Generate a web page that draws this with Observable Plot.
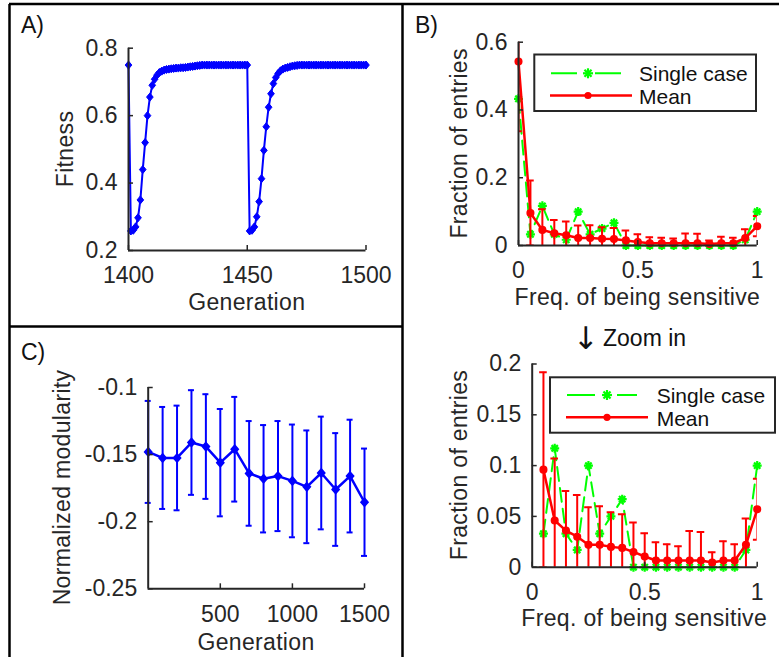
<!DOCTYPE html>
<html><head><meta charset="utf-8">
<script src="https://cdn.jsdelivr.net/npm/d3@7"></script>
<script src="https://cdn.jsdelivr.net/npm/@observablehq/plot@0.6"></script>
<style>
html,body{margin:0;padding:0;background:#fff;}
#fig{position:relative;width:779px;height:657px;overflow:hidden;background:#fff;}
#fig svg{position:absolute;left:0;top:0;overflow:visible;}
</style></head><body><div id="fig"></div>
<script>
// ---------- DATA ----------
// Panel A: fitness per generation, starting at generation 1400
const fitnessStartGen = 1400;
const fitness = [
 0.750,0.258,0.260,0.270,0.297,0.350,0.440,0.520,0.600,0.655,
 0.690,0.708,0.720,0.728,0.732,0.735,0.737,0.738,0.739,0.740,
 0.741,0.741,0.742,0.742,0.743,0.744,0.745,0.746,0.747,0.748,
 0.749,0.750,0.750,0.750,0.750,0.750,0.750,0.750,0.750,0.750,
 0.750,0.750,0.750,0.750,0.750,0.750,0.750,0.750,0.750,0.750,
 0.750,0.258,0.260,0.270,0.300,0.345,0.413,0.497,0.567,0.625,
 0.665,0.695,0.713,0.725,0.733,0.738,0.741,0.743,0.745,0.747,
 0.748,0.749,0.750,0.750,0.750,0.750,0.750,0.750,0.750,0.750,
 0.750,0.750,0.750,0.750,0.750,0.750,0.750,0.750,0.750,0.750,
 0.750,0.750,0.750,0.750,0.750,0.750,0.750,0.750,0.750,0.750,
 0.750
];
const fitXTicks = [1400, 1450, 1500];
const fitYTicks = [0.2, 0.4, 0.6, 0.8];

// Panel B: fraction of entries vs frequency of being sensitive
const freqBins   = [0,0.05,0.1,0.15,0.2,0.25,0.3,0.35,0.4,0.45,0.5,0.55,0.6,0.65,0.7,0.75,0.8,0.85,0.9,0.95,1];
const singleCase = [0.433,0.033,0.117,0.033,0.017,0.100,0.033,0.050,0.067,0,0,0,0,0,0,0,0,0,0,0.017,0.100];
const meanFrac   = [0.543,0.096,0.046,0.036,0.030,0.022,0.022,0.020,0.019,0.015,0.0105,0.0066,0.0066,0.0066,0.0066,0.0066,0.0046,0.0066,0.0066,0.022,0.057];
const errFrac    = [0.206,0.096,0.061,0.039,0.041,0.037,0.038,0.034,0.033,0.029,0.023,0.018,0.016,0.014,0.029,0.028,0.010,0.019,0.016,0.026,0.030];
const freqXTicks = [0, 0.5, 1];
const fracYTicksTop = [0, 0.2, 0.4, 0.6];
const fracYTicksZoom = [0, 0.05, 0.1, 0.15, 0.2];

// Panel C: normalized modularity vs generation
const modGen  = [0,100,200,300,400,500,600,700,800,900,1000,1100,1200,1300,1400,1500];
const modMean = [-0.148,-0.1525,-0.1525,-0.141,-0.144,-0.156,-0.146,-0.164,-0.168,-0.166,-0.1696,-0.174,-0.1637,-0.176,-0.166,-0.1855];
const modErr  = [0.038,0.038,0.039,0.039,0.039,0.040,0.039,0.039,0.040,0.041,0.042,0.042,0.042,0.042,0.042,0.040];
const modXTicks = [500, 1000, 1500];
const modYTicks = [-0.25, -0.2, -0.15, -0.1];

// ---------- BUILD ----------
const W = 779, H = 657;
const FONT = '"Liberation Sans", Arial, Helvetica, sans-serif';
const AX = "#262626";
const BLUE = "#0000ff", RED = "#ff0000", GREEN = "#00ff00";
const fig = document.getElementById("fig");

const fitRows = fitness.map((v, i) => ({gen: fitnessStartGen + i, fit: v}));
const bRows = freqBins.map((f, i) => ({f, s: singleCase[i], m: meanFrac[i], e: errFrac[i]}));
const cRows = modGen.map((g, i) => ({g, m: modMean[i], e: modErr[i]}));

const diamond = (wf, hf) => ({draw(ctx, size) {
  const r = Math.sqrt(size / Math.PI);
  ctx.moveTo(0, -r * hf); ctx.lineTo(r * wf, 0); ctx.lineTo(0, r * hf); ctx.lineTo(-r * wf, 0); ctx.closePath();
}});
const asterisk = {draw(ctx, size) {
  const r = Math.sqrt(size / Math.PI);
  for (const a of [0, Math.PI / 4, Math.PI / 2, 3 * Math.PI / 4]) {
    const c = Math.cos(a) * r, s = Math.sin(a) * r;
    ctx.moveTo(c, s); ctx.lineTo(-c, -s);
  }
}};

function panel({left, right, top, bottom, xDomain, yDomain, xTicks, yTicks, marks}) {
  const kx = (xDomain[1] - xDomain[0]) / (right - left);
  const ky = (yDomain[1] - yDomain[0]) / (bottom - top);
  const tl = 5;
  const x0 = xDomain[0], y0 = yDomain[0];
  const svg = Plot.plot({
    width: W, height: H,
    marginLeft: left, marginRight: W - right, marginTop: top, marginBottom: H - bottom,
    x: {domain: xDomain}, y: {domain: yDomain},
    style: {background: "transparent", color: AX, fontFamily: FONT, fontSize: "23px", overflow: "visible"},
    marks: [
      ...marks({kx, ky}),
      Plot.ruleY([y0], {stroke: AX, strokeWidth: 2}),
      Plot.ruleX([x0], {stroke: AX, strokeWidth: 2}),
      Plot.ruleX(xTicks, {x: d => d, y1: () => y0, y2: () => y0 + tl * ky, stroke: AX, strokeWidth: 1.5}),
      Plot.ruleY(yTicks, {y: d => d, x1: () => x0, x2: () => x0 + tl * kx, stroke: AX, strokeWidth: 1.5}),
      Plot.axisX({ticks: xTicks, tickSize: 0, tickPadding: 16.5, tickFormat: d => String(d), label: null}),
      Plot.axisY({ticks: yTicks, tickSize: 0, tickPadding: 11, tickFormat: d => String(d), label: null})
    ]
  });
  fig.appendChild(svg);
}

// Panel A
panel({left: 128, right: 365.5, top: 47.7, bottom: 250,
  xDomain: [1400, 1500], yDomain: [0.2, 0.8], xTicks: fitXTicks, yTicks: fitYTicks,
  marks: () => [
    Plot.line(fitRows, {x: "gen", y: "fit", stroke: BLUE, strokeWidth: 2}),
    Plot.dot(fitRows, {x: "gen", y: "fit", symbol: diamond(0.95, 1.15), r: 3.5, fill: BLUE, stroke: BLUE, strokeWidth: 1})
  ]});

// Panel B marks
function bMarks(rows, capHalf) {
  return ({kx}) => [
    Plot.line(rows, {x: "f", y: "s", stroke: GREEN, strokeWidth: 2, strokeDasharray: "14,7"}),
    Plot.dot(rows, {x: "f", y: "s", symbol: asterisk, r: 4.5, stroke: GREEN, strokeWidth: 2.2, fill: "none"}),
    Plot.ruleX(rows, {x: "f", y1: d => d.m - d.e, y2: d => d.m + d.e, stroke: RED, strokeWidth: 2, clip: true}),
    Plot.ruleY(rows, {y: d => d.m + d.e, x1: d => d.f - capHalf * kx, x2: d => d.f + capHalf * kx, stroke: RED, strokeWidth: 2, clip: true}),
    Plot.ruleY(rows, {y: d => d.m - d.e, x1: d => d.f - capHalf * kx, x2: d => d.f + capHalf * kx, stroke: RED, strokeWidth: 2, clip: true}),
    Plot.line(rows, {x: "f", y: "m", stroke: RED, strokeWidth: 2.5}),
    Plot.dot(rows, {x: "f", y: "m", r: 3.3, fill: RED, stroke: RED})
  ];
}
panel({left: 518, right: 756.7, top: 41.7, bottom: 245,
  xDomain: [0, 1], yDomain: [0, 0.6], xTicks: freqXTicks, yTicks: fracYTicksTop,
  marks: bMarks(bRows, 3.8)});
panel({left: 531.7, right: 756.7, top: 363.5, bottom: 566.7,
  xDomain: [0, 1], yDomain: [0, 0.2], xTicks: freqXTicks, yTicks: fracYTicksZoom,
  marks: bMarks(bRows.filter(d => d.f > 0), 3.8)});

// Panel C
panel({left: 147.7, right: 364, top: 387, bottom: 588.3,
  xDomain: [0, 1500], yDomain: [-0.25, -0.1], xTicks: modXTicks, yTicks: modYTicks,
  marks: ({kx}) => [
    Plot.ruleX(cRows, {x: "g", y1: d => d.m - d.e, y2: d => d.m + d.e, stroke: BLUE, strokeWidth: 2}),
    Plot.ruleY(cRows, {y: d => d.m + d.e, x1: d => d.g - 3 * kx, x2: d => d.g + 3 * kx, stroke: BLUE, strokeWidth: 2}),
    Plot.ruleY(cRows, {y: d => d.m - d.e, x1: d => d.g - 3 * kx, x2: d => d.g + 3 * kx, stroke: BLUE, strokeWidth: 2}),
    Plot.line(cRows, {x: "g", y: "m", stroke: BLUE, strokeWidth: 2.5}),
    Plot.dot(cRows, {x: "g", y: "m", symbol: diamond(0.95, 1.1), r: 3.8, fill: BLUE, stroke: BLUE})
  ]});

// ---------- OVERLAY: frames, labels, legends ----------
const ov = d3.create("svg").attr("width", W).attr("height", H)
  .style("font-family", FONT);
const bord = [[9, 4, 779, 4], [9.5, 4, 9.5, 657], [402.5, 4, 402.5, 657], [9.5, 326.5, 402.5, 326.5]];
for (const [x1, y1, x2, y2] of bord)
  ov.append("line").attr("x1", x1).attr("y1", y1).attr("x2", x2).attr("y2", y2)
    .attr("stroke", "#000").attr("stroke-width", 2.5);

const letters = [["A)", 21, 33], ["B)", 415, 33], ["C)", 21, 360]];
for (const [t, x, y] of letters)
  ov.append("text").attr("x", x).attr("y", y).attr("font-size", 23).attr("fill", "#111").text(t);

const xLabels = [["Generation", 246.75, 310], ["Generation", 256, 650],
  ["Freq. of being sensitive", 637.4, 305], ["Freq. of being sensitive", 644.2, 626]];
for (const [t, x, y] of xLabels)
  ov.append("text").attr("x", x).attr("y", y).attr("text-anchor", "middle")
    .attr("font-size", 23).attr("letter-spacing", "0.33px").attr("fill", AX).text(t);

const yLabels = [["Fitness", 72.5, 149], ["Normalized modularity", 69.5, 487.5],
  ["Fraction of entries", 467, 143.4], ["Fraction of entries", 467, 465]];
for (const [t, x, y] of yLabels)
  ov.append("text").attr("transform", `translate(${x},${y}) rotate(-90)`).attr("text-anchor", "middle")
    .attr("font-size", 23).attr("letter-spacing", "0.33px").attr("fill", AX).text(t);

const zt = ov.append("text").attr("y", 346).attr("font-size", 23).attr("fill", "#111");
zt.append("tspan").attr("x", 573).attr("y", 349).attr("font-family", '"DejaVu Sans", sans-serif').attr("font-size", 31).text("↓");
zt.append("tspan").attr("x", 603).attr("y", 346).text("Zoom in");

function legend(box, g, r, tx, ty1, ty2) {
  ov.append("rect").attr("x", box[0]).attr("y", box[1]).attr("width", box[2]).attr("height", box[3])
    .attr("fill", "#fff").attr("stroke", AX).attr("stroke-width", 2);
  ov.append("line").attr("x1", g[0]).attr("x2", g[1]).attr("y1", g[3]).attr("y2", g[3])
    .attr("stroke", GREEN).attr("stroke-width", 2).attr("stroke-dasharray", g[4]);
  const sz = 5;
  const ast = ov.append("g").attr("transform", `translate(${g[2]},${g[3]})`).attr("stroke", GREEN).attr("stroke-width", 2.2);
  for (const a of [0, 45, 90, 135]) {
    const c = Math.cos(a * Math.PI / 180) * sz, s = Math.sin(a * Math.PI / 180) * sz;
    ast.append("line").attr("x1", c).attr("y1", s).attr("x2", -c).attr("y2", -s);
  }
  ov.append("line").attr("x1", r[0]).attr("x2", r[1]).attr("y1", r[3]).attr("y2", r[3])
    .attr("stroke", RED).attr("stroke-width", 2.5);
  ov.append("circle").attr("cx", r[2]).attr("cy", r[3]).attr("r", 3.6).attr("fill", RED);
  ov.append("text").attr("x", tx).attr("y", ty1).attr("font-size", 21).attr("fill", "#111").text("Single case");
  ov.append("text").attr("x", tx).attr("y", ty2).attr("font-size", 21).attr("fill", "#111").text("Mean");
}
legend([534.3, 54.5, 221.7, 56.5], [551, 621, 588, 73.3, "26,18"], [550, 632, 588, 95.5], 639, 80.5, 103.5);
legend([550, 377.3, 225, 55.4], [567, 637, 607, 395, "28,22"], [566, 648, 607, 417.3], 656.7, 403, 426);

fig.appendChild(ov.node());
</script></body></html>
